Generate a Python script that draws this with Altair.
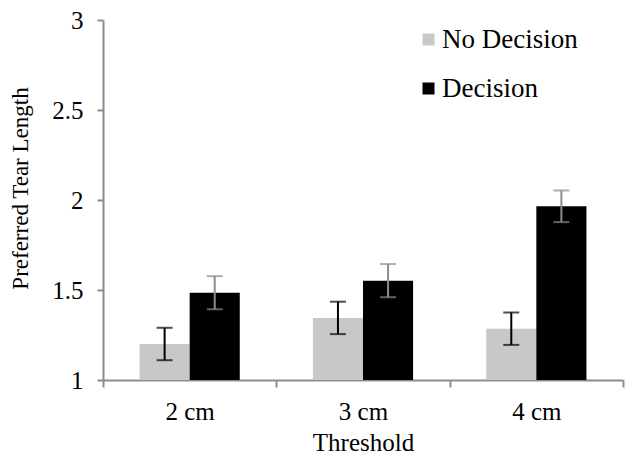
import altair as alt
import pandas as pd

thresholds = ["2 cm", "3 cm", "4 cm"]
series = ["No Decision", "Decision"]
no_decision = [1.20, 1.345, 1.285]
decision = [1.485, 1.552, 1.965]
err_no_decision = [0.09, 0.09, 0.09]
err_decision = [0.092, 0.092, 0.088]

rows = []
for i, t in enumerate(thresholds):
    rows.append({"Threshold": t, "Group": "No Decision", "value": no_decision[i],
                 "lo": no_decision[i] - err_no_decision[i], "hi": no_decision[i] + err_no_decision[i],
                 "ecol": "#000000"})
    rows.append({"Threshold": t, "Group": "Decision", "value": decision[i],
                 "lo": decision[i] - err_decision[i], "hi": decision[i] + err_decision[i],
                 "ecol": "#8c8c8c"})
df = pd.DataFrame(rows)

FONT = "Liberation Serif"
FS = 25

x = alt.X("Threshold:N", sort=thresholds, title="Threshold",
          scale=alt.Scale(paddingInner=0, paddingOuter=0),
          axis=alt.Axis(labelAngle=0, tickBand="extent", labelFontSize=FS, titleFontSize=25,
                        labelPadding=12, titlePadding=6, tickSize=7, domainColor="#8c8c8c",
                        tickColor="#8c8c8c", domainWidth=2, tickWidth=2, labelFont=FONT,
                        titleFont=FONT, labelColor="black", titleColor="black", titleFontWeight="normal"))
xo = alt.XOffset("Group:N", sort=series, scale=alt.Scale(paddingInner=0, paddingOuter=0.73))
y = alt.Y("value:Q", title="Preferred Tear Length",
          scale=alt.Scale(domain=[1, 3], zero=False, nice=False),
          axis=alt.Axis(values=[1, 1.5, 2, 2.5, 3], format="~g", grid=False, labelFontSize=FS,
                        titleFontSize=23, labelFont=FONT, titleFont=FONT, labelColor="black",
                        titleColor="black", titleFontWeight="normal", tickSize=6, labelPadding=14,
                        titlePadding=19, titleY=168, domainColor="#8c8c8c", tickColor="#8c8c8c",
                        domainWidth=2, tickWidth=2))

base = alt.Chart(df)

bars = base.mark_bar(stroke=None).encode(
    x=x, xOffset=xo, y=y, y2=alt.datum(1),
    color=alt.Color("Group:N", sort=series,
                    scale=alt.Scale(domain=series, range=["#c8c8c8", "#000000"]),
                    legend=alt.Legend(title=None, orient="none", legendX=312, legendY=6,
                                      symbolType="square", symbolSize=144, labelFontSize=27,
                                      labelFont=FONT, labelColor="black", rowPadding=21,
                                      labelOffset=0, symbolStrokeWidth=0)),
)

rules = base.mark_rule(strokeWidth=2).encode(
    x=alt.X("Threshold:N", sort=thresholds), xOffset=xo,
    y=alt.Y("lo:Q"), y2="hi:Q",
    color=alt.Color("ecol:N", scale=None, legend=None),
)
cap_lo = base.mark_tick(size=16, thickness=2).encode(
    x=alt.X("Threshold:N", sort=thresholds), xOffset=xo,
    y=alt.Y("lo:Q"),
    color=alt.Color("ecol:N", scale=None, legend=None),
)
cap_hi = base.mark_tick(size=16, thickness=2).encode(
    x=alt.X("Threshold:N", sort=thresholds), xOffset=xo,
    y=alt.Y("hi:Q"),
    color=alt.Color("ecol:N", scale=None, legend=None),
)

chart = alt.layer(bars, rules, cap_lo, cap_hi).resolve_scale(color="independent").properties(
    width=520, height=360,
    autosize=alt.AutoSizeParams(type="none"),
    padding={"left": 95, "top": 12, "right": 6, "bottom": 77},
).configure(background="white", font=FONT).configure_view(stroke=None).configure_legend(
    labelFont=FONT
)

chart.save("out.html", embed_options={"renderer": "svg", "actions": False})
